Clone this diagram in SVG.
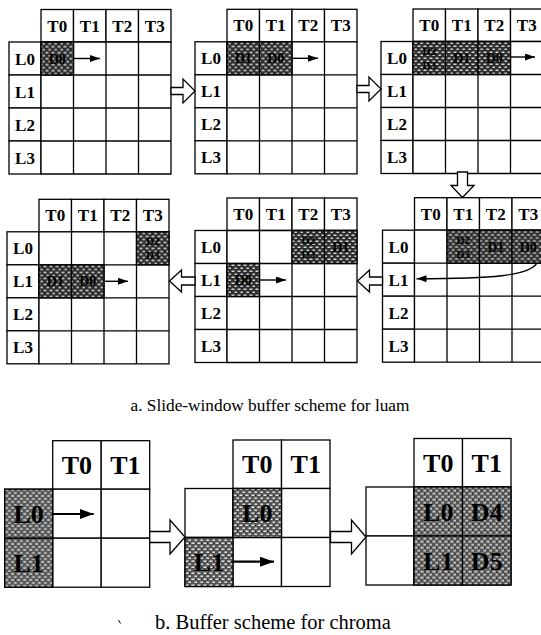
<svg xmlns="http://www.w3.org/2000/svg" xmlns:xlink="http://www.w3.org/1999/xlink" width="541" height="635" viewBox="0 0 541 635">
<style>
.c{fill:#fff;stroke:#000;stroke-width:1.3}
.s{fill:url(#hatch);stroke:#000;stroke-width:1.3}
.s2{fill:url(#hatch2);stroke:#000;stroke-width:1.3}
.h{font-family:"Liberation Serif","Times New Roman",serif;font-weight:bold;font-size:17px;text-anchor:middle;fill:#000}
.d{font-family:"Liberation Serif","Times New Roman",serif;font-weight:bold;font-size:14px;text-anchor:middle;fill:#000}
.d2{font-family:"Liberation Serif","Times New Roman",serif;font-weight:bold;font-size:11px;text-anchor:middle;fill:#000}
.H{font-family:"Liberation Serif","Times New Roman",serif;font-weight:bold;font-size:26px;text-anchor:middle;fill:#000}
.cap{font-family:"Liberation Serif","Times New Roman",serif;text-anchor:middle;fill:#000}
.ln{fill:none;stroke:#000;stroke-width:1.4}
.ln2{fill:none;stroke:#000;stroke-width:2.2}
.big{fill:#fff;stroke:#000;stroke-width:1.3;stroke-linejoin:miter}
</style>
<defs>
<pattern id="hatch" width="6" height="6" patternUnits="userSpaceOnUse">
<rect width="6" height="6" fill="#2e2e2e"/>
<rect x="0.5" y="0.6" width="3" height="1.2" fill="#fff"/>
<rect x="3.5" y="3.6" width="2.4" height="1.2" fill="#fff"/>
</pattern>
<pattern id="hatch2" width="6" height="6" patternUnits="userSpaceOnUse">
<rect width="6" height="6" fill="#555"/>
<rect x="0.4" y="0.5" width="3.2" height="1.4" fill="#eee"/>
<rect x="3.4" y="3.5" width="2.6" height="1.4" fill="#eee"/>
<rect x="4" y="1" width="1" height="1" fill="#111"/>
</pattern>
<marker id="ah" markerUnits="userSpaceOnUse" markerWidth="10" markerHeight="7" refX="10" refY="3.5" orient="auto">
<path d="M0,0 L10,3.5 L0,7 z" fill="#000"/>
</marker>
<marker id="ah2" markerUnits="userSpaceOnUse" markerWidth="14" markerHeight="10" refX="14" refY="5" orient="auto">
<path d="M0,0 L14,5 L0,10 z" fill="#000"/>
</marker>
<g id="lgrid">
<rect class="c" x="32" y="0" width="32.5" height="32.5"/>
<rect class="c" x="64.5" y="0" width="32.5" height="32.5"/>
<rect class="c" x="97" y="0" width="32.5" height="32.5"/>
<rect class="c" x="129.5" y="0" width="32.5" height="32.5"/>
<rect class="c" x="0" y="32.5" width="32" height="33"/>
<rect class="c" x="0" y="65.5" width="32" height="33"/>
<rect class="c" x="0" y="98.5" width="32" height="33"/>
<rect class="c" x="0" y="131.5" width="32" height="33"/>
<path d="M32,32.5 H162 V164.5 H32 Z M32,65.5 H162 M32,98.5 H162 M32,131.5 H162 M64.5,32.5 V164.5 M97,32.5 V164.5 M129.5,32.5 V164.5" fill="#fff" stroke="#000" stroke-width="1.3"/>
<text class="h" x="48.25" y="22">T0</text>
<text class="h" x="80.75" y="22">T1</text>
<text class="h" x="113.25" y="22">T2</text>
<text class="h" x="145.75" y="22">T3</text>
<text class="h" x="16" y="55">L0</text>
<text class="h" x="16" y="88">L1</text>
<text class="h" x="16" y="121">L2</text>
<text class="h" x="16" y="154">L3</text>
</g>
<g id="cgrid">
<rect class="c" x="48" y="0" width="48.5" height="48.5"/>
<rect class="c" x="96.5" y="0" width="48.5" height="48.5"/>
<rect class="c" x="0" y="48.5" width="48" height="49"/>
<rect class="c" x="0" y="97.5" width="48" height="49"/>
<rect class="c" x="48" y="48.5" width="48.5" height="49"/>
<rect class="c" x="96.5" y="48.5" width="48.5" height="49"/>
<rect class="c" x="48" y="97.5" width="48.5" height="49"/>
<rect class="c" x="96.5" y="97.5" width="48.5" height="49"/>
<text class="H" x="72.25" y="33">T0</text>
<text class="H" x="120.75" y="33">T1</text>
</g>
</defs>
<rect width="541" height="635" fill="#fff"/>

<g id="grid1" transform="translate(9,9.5)">
<use xlink:href="#lgrid"/>
<rect class="s" x="32" y="32.5" width="32.5" height="33"/>
<text class="d" x="48.25" y="54">D0</text>
<line class="ln" x1="64.5" y1="49" x2="91" y2="49" marker-end="url(#ah)"/>
</g>

<g id="grid2" transform="translate(195,9.3)">
<use xlink:href="#lgrid"/>
<rect class="s" x="32" y="32.5" width="32.5" height="33"/>
<rect class="s" x="64.5" y="32.5" width="32.5" height="33"/>
<text class="d" x="48.25" y="54">D1</text>
<text class="d" x="80.75" y="54">D0</text>
<line class="ln" x1="97" y1="49" x2="123" y2="49" marker-end="url(#ah)"/>
</g>

<g id="grid3" transform="translate(381,9)">
<use xlink:href="#lgrid"/>
<rect class="s" x="32" y="32.5" width="32.5" height="33"/>
<rect class="s" x="64.5" y="32.5" width="32.5" height="33"/>
<rect class="s" x="97" y="32.5" width="32.5" height="33"/>
<text class="d2" x="48.25" y="46">D2</text>
<text class="d2" x="48.25" y="60">D3</text>
<text class="d" x="80.75" y="54">D1</text>
<text class="d" x="113.25" y="54">D0</text>
<line class="ln" x1="129.5" y1="48" x2="154" y2="48" marker-end="url(#ah)"/>
</g>

<g id="grid4" transform="translate(7,199.3)">
<use xlink:href="#lgrid"/>
<rect class="s" x="129.5" y="32.5" width="32.5" height="33"/>
<rect class="s" x="32" y="65.5" width="32.5" height="33"/>
<rect class="s" x="64.5" y="65.5" width="32.5" height="33"/>
<text class="d2" x="145.75" y="46">D2</text>
<text class="d2" x="145.75" y="60">D3</text>
<text class="d" x="48.25" y="87">D1</text>
<text class="d" x="80.75" y="87">D0</text>
<line class="ln" x1="97" y1="82" x2="121" y2="82" marker-end="url(#ah)"/>
</g>

<g id="grid5" transform="translate(195,198)">
<use xlink:href="#lgrid"/>
<rect class="s" x="97" y="32.5" width="32.5" height="33"/>
<rect class="s" x="129.5" y="32.5" width="32.5" height="33"/>
<rect class="s" x="32" y="65.5" width="32.5" height="33"/>
<text class="d2" x="113.25" y="46">D2</text>
<text class="d2" x="113.25" y="60">D3</text>
<text class="d" x="145.75" y="54">D1</text>
<text class="d" x="48.25" y="87">D0</text>
<line class="ln" x1="64.5" y1="82" x2="91" y2="82" marker-end="url(#ah)"/>
</g>

<g id="grid6" transform="translate(382.5,197.7)">
<use xlink:href="#lgrid"/>
<rect class="s" x="64.5" y="32.5" width="32.5" height="33"/>
<rect class="s" x="97" y="32.5" width="32.5" height="33"/>
<rect class="s" x="129.5" y="32.5" width="32.5" height="33"/>
<text class="d2" x="80.75" y="46">D2</text>
<text class="d2" x="80.75" y="60">D3</text>
<text class="d" x="113.25" y="54">D1</text>
<text class="d" x="145.75" y="54">D0</text>
<path class="ln" d="M154,66 C146,78 110,81 34,81" marker-end="url(#ah)"/>
</g>

<g id="chromaA" transform="translate(4.7,440.7)">
<use xlink:href="#cgrid"/>
<rect class="s2" x="0" y="48.5" width="48" height="49"/>
<rect class="s2" x="0" y="97.5" width="48" height="49"/>
<text class="H" x="24" y="82">L0</text>
<text class="H" x="24" y="131">L1</text>
<line class="ln2" x1="48" y1="73.3" x2="89" y2="73.3" marker-end="url(#ah2)"/>
</g>

<g id="chromaB" transform="translate(185,440)">
<use xlink:href="#cgrid"/>
<rect class="s2" x="48" y="48.5" width="48.5" height="49"/>
<rect class="s2" x="0" y="97.5" width="48" height="49"/>
<text class="H" x="72.25" y="82">L0</text>
<text class="H" x="24" y="131">L1</text>
<line class="ln2" x1="48" y1="121.7" x2="89" y2="121.7" marker-end="url(#ah2)"/>
</g>

<g id="chromaC" transform="translate(366,438.5)">
<use xlink:href="#cgrid"/>
<rect class="s2" x="48" y="48.5" width="48.5" height="49"/>
<rect class="s2" x="96.5" y="48.5" width="48.5" height="49"/>
<rect class="s2" x="48" y="97.5" width="48.5" height="49"/>
<rect class="s2" x="96.5" y="97.5" width="48.5" height="49"/>
<text class="H" x="72.25" y="82">L0</text>
<text class="H" x="120.75" y="82">D4</text>
<text class="H" x="72.25" y="131">L1</text>
<text class="H" x="120.75" y="131">D5</text>
</g>

<g id="connectors">
<polygon class="big" points="171,87.5 183,87.5 183,79 195,91 183,103 183,94.5 171,94.5"/>
<polygon class="big" points="357,85.5 369,85.5 369,77 381,89 369,101 369,92.5 357,92.5"/>
<polygon class="big" points="457.5,172 467.5,172 467.5,185.5 474,185.5 462.5,197.5 451,185.5 457.5,185.5"/>
<polygon class="big" points="382.5,277 369.5,277 369.5,270 357.5,281 369.5,292 369.5,285 382.5,285"/>
<polygon class="big" points="195,277 181.5,277 181.5,270 169.5,281 181.5,292 181.5,285 195,285"/>
<polygon class="big" points="149.7,531.5 170,531.5 170,520 185,537 170,554 170,542.5 149.7,542.5"/>
<polygon class="big" points="330.5,531.5 351.5,531.5 351.5,520 366,537 351.5,554 351.5,542.5 330.5,542.5"/>
</g>

<text class="cap" x="270" y="411" font-size="17.3">a. Slide-window buffer scheme for luam</text>
<text class="cap" x="273" y="629" font-size="20.5">b. Buffer scheme for chroma</text>
<line x1="118.5" y1="620" x2="120.5" y2="623.5" stroke="#000" stroke-width="1"/>
</svg>
